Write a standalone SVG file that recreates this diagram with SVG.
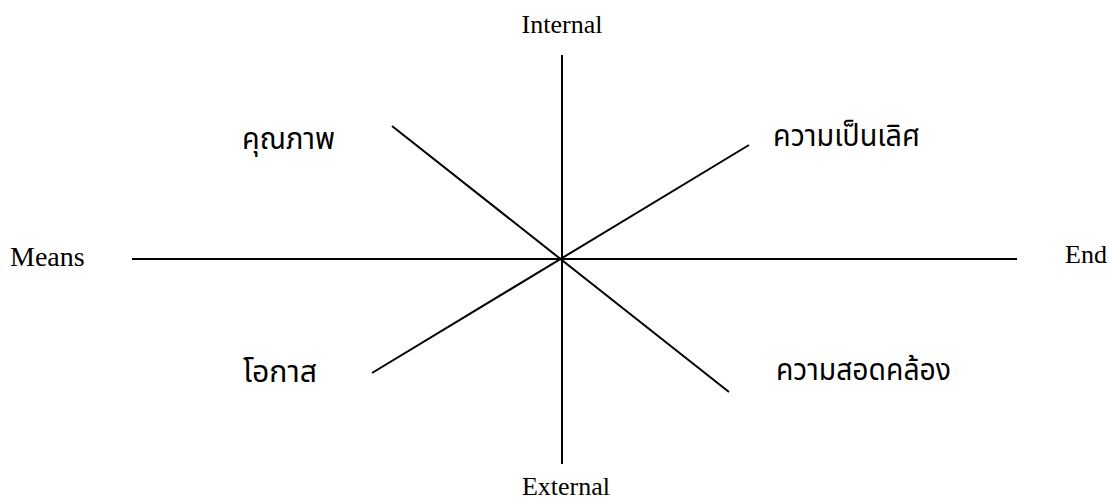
<svg xmlns="http://www.w3.org/2000/svg" width="1109" height="499" viewBox="0 0 1109 499">
<style>
.en{font-family:"Liberation Serif","Times New Roman",serif;font-size:26px;fill:#000}
.th{font-family:"Noto Sans","Noto Sans Thai","Liberation Sans",sans-serif;font-size:31px;fill:#000}
.ax{stroke:#000;stroke-width:2;fill:none}
</style>
<rect width="1109" height="499" fill="#fff"/>
<g id="connectors">
<line class="ax" x1="562" y1="55" x2="562" y2="464"/>
<line class="ax" x1="132" y1="259" x2="1017" y2="259"/>
<line class="ax" x1="392" y1="126" x2="729" y2="392"/>
<line class="ax" x1="749" y1="145" x2="372" y2="373"/>
</g>
<g id="internal"><text class="en" x="562" y="33" text-anchor="middle">Internal</text></g>
<g id="external"><text class="en" x="566" y="495" text-anchor="middle">External</text></g>
<g id="means"><text class="en" x="10" y="266" style="font-size:28px">Means</text></g>
<g id="end"><text class="en" x="1065" y="263">End</text></g>
<g id="quality"><text class="th" x="242" y="149" textLength="93" lengthAdjust="spacingAndGlyphs">คุณภาพ</text></g>
<g id="excellence"><text class="th" x="773" y="146" textLength="147" lengthAdjust="spacingAndGlyphs">ความเป็นเลิศ</text></g>
<g id="opportunity"><text class="th" x="243" y="382" textLength="74" lengthAdjust="spacingAndGlyphs">โอกาส</text></g>
<g id="alignment"><text class="th" x="776" y="380" textLength="175" lengthAdjust="spacingAndGlyphs">ความสอดคล้อง</text></g>
</svg>
